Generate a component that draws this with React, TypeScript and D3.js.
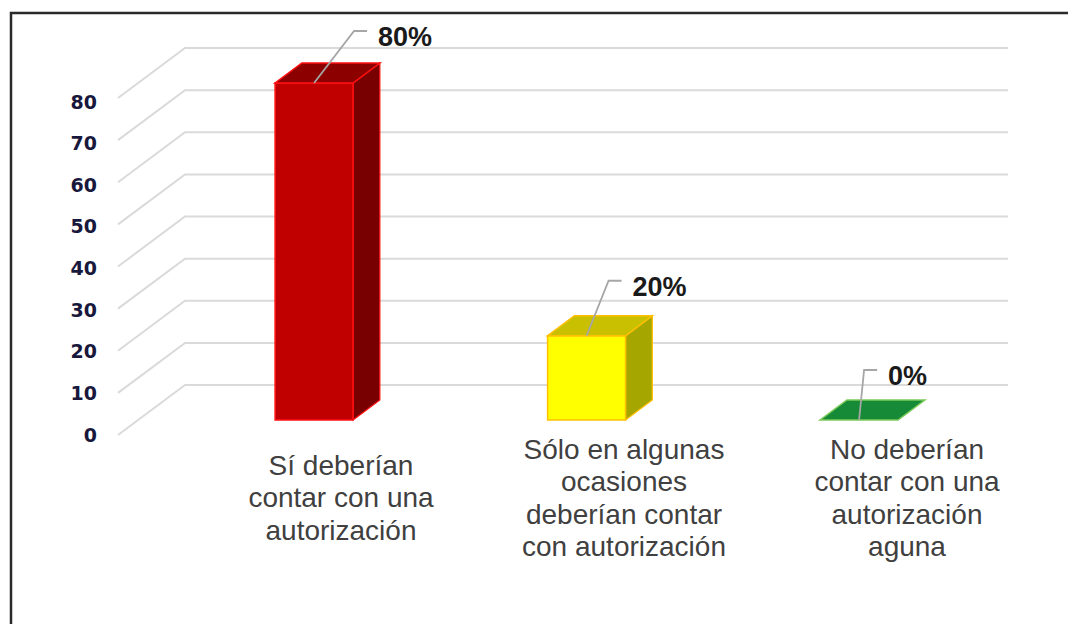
import React from "react";
import * as d3 from "d3";

const categories = ["si", "solo", "no"];
const categoryLines: string[][] = [
  ["Sí deberían", "contar con una", "autorización"],
  ["Sólo en algunas", "ocasiones", "deberían contar", "con autorización"],
  ["No deberían", "contar con una", "autorización", "aguna"],
];
const values = [80, 20, 0];
const valueLabels = ["80%", "20%", "0%"];
const yTicks = [0, 10, 20, 30, 40, 50, 60, 70, 80];

const faceColors = [
  { front: "#C00000", top: "#8C0000", side: "#780000", stroke: "#FF1010" },
  { front: "#FFFF00", top: "#C8C000", side: "#A6A600", stroke: "#FFC000" },
  { front: "#168A36", top: "#168A36", side: "#146E2C", stroke: "#7CCB5A" },
];

const W = 1068;
const H = 624;
const DX = 67; // full depth, x shift
const DY = 50; // full depth, y shift
const Z0 = 0.3;
const Z1 = 0.7;

export default function App() {
  const y = d3.scaleLinear().domain([0, 80]).range([435, 98]);
  const yLab = d3.scaleLinear().domain([0, 80]).range([436, 103]);
  const x = d3
    .scaleBand<string>()
    .domain(categories)
    .range([118.75, 1014.2])
    .paddingInner(0.714)
    .paddingOuter(0.5);
  const labelX = d3.scalePoint<string>().domain(categories).range([341, 907]);

  const wallX0 = 118;
  const wallX1 = 941;
  const P = (px: number, py: number, z: number): [number, number] => [px + z * DX, py - z * DY];
  const pts = (arr: [number, number][]) => arr.map((p) => p.join(",")).join(" ");

  const leaderOffsets: [number, number][] = [
    [40, -52],
    [22, -55],
    [5, -50],
  ];

  return (
    <svg
      width={W}
      height={H}
      style={{ position: "absolute", left: 0, top: 0, background: "#fff" }}
      fontFamily="'Liberation Sans', Arial, sans-serif"
    >
      <rect x={0} y={0} width={W} height={H} fill="#fff" />
      <rect x={11} y={13} width={W + 20} height={H + 20} fill="none" stroke="#2a2a2a" strokeWidth={2.5} />

      {/* grid: side wall diagonals + back wall lines */}
      {yTicks.map((t) => {
        const f = P(wallX0, y(t), 0);
        const b = P(wallX0, y(t), 1);
        const e = P(wallX1, y(t), 1);
        return (
          <polyline
            key={t}
            points={pts([f, b, e])}
            fill="none"
            stroke="#DADADA"
            strokeWidth={2}
          />
        );
      })}

      {/* y tick labels */}
      {yTicks.map((t) => (
        <text
          key={"yl" + t}
          x={97}
          y={yLab(t)}
          textAnchor="end"
          dominantBaseline="middle"
          fontFamily="'DejaVu Sans', Verdana, sans-serif"
          fontWeight="bold"
          fontSize={19}
          fill="#18183C"
        >
          {t}
        </text>
      ))}

      {/* bars */}
      {categories.map((c, i) => {
        const xl = x(c)!;
        const xr = xl + x.bandwidth();
        const yt = y(values[i]);
        const yb = y(0);
        const col = faceColors[i];
        const fl = P(xl, yt, Z0);
        const fr = P(xr, yt, Z0);
        const br = P(xr, yt, Z1);
        const bl = P(xl, yt, Z1);
        const frb = P(xr, yb, Z0);
        const brb = P(xr, yb, Z1);
        const flb = P(xl, yb, Z0);
        const hasHeight = values[i] > 0;
        return (
          <g key={c}>
            {hasHeight && (
              <>
                <polygon points={pts([fr, br, brb, frb])} fill={col.side} stroke={col.stroke} strokeWidth={1.2} />
                <polygon points={pts([flb, fl, fr, frb])} fill={col.front} stroke={col.stroke} strokeWidth={1.5} />
              </>
            )}
            <polygon points={pts([fl, fr, br, bl])} fill={col.top} stroke={col.stroke} strokeWidth={1.5} />
          </g>
        );
      })}

      {/* data labels with leaders */}
      {categories.map((c, i) => {
        const cx = x(c)! + x.bandwidth() / 2;
        const [sx, sy] = P(cx, y(values[i]), Z0);
        const [ox, oy] = leaderOffsets[i];
        const ex = sx + ox;
        const ey = sy + oy;
        return (
          <g key={"dl" + c}>
            <polyline
              points={pts([
                [sx, sy],
                [ex, ey],
                [ex + 13, ey],
              ])}
              fill="none"
              stroke="#A6A6A6"
              strokeWidth={1.8}
            />
            <text x={ex + 24} y={ey + 15} fontWeight="bold" fontSize={27} fill="#1a1a1a">
              {valueLabels[i]}
            </text>
          </g>
        );
      })}

      {/* category labels */}
      {categories.map((c, i) => {
        const lines = categoryLines[i];
        const lh = 32.5;
        const mid = 500;
        const start = mid - ((lines.length - 1) * lh) / 2;
        return (
          <text
            key={"cl" + c}
            x={labelX(c)}
            textAnchor="middle"
            fontSize={28}
            fill="#404040"
          >
            {lines.map((l, k) => (
              <tspan key={k} x={labelX(c)} y={start + k * lh} dominantBaseline="middle">
                {l}
              </tspan>
            ))}
          </text>
        );
      })}
    </svg>
  );
}
